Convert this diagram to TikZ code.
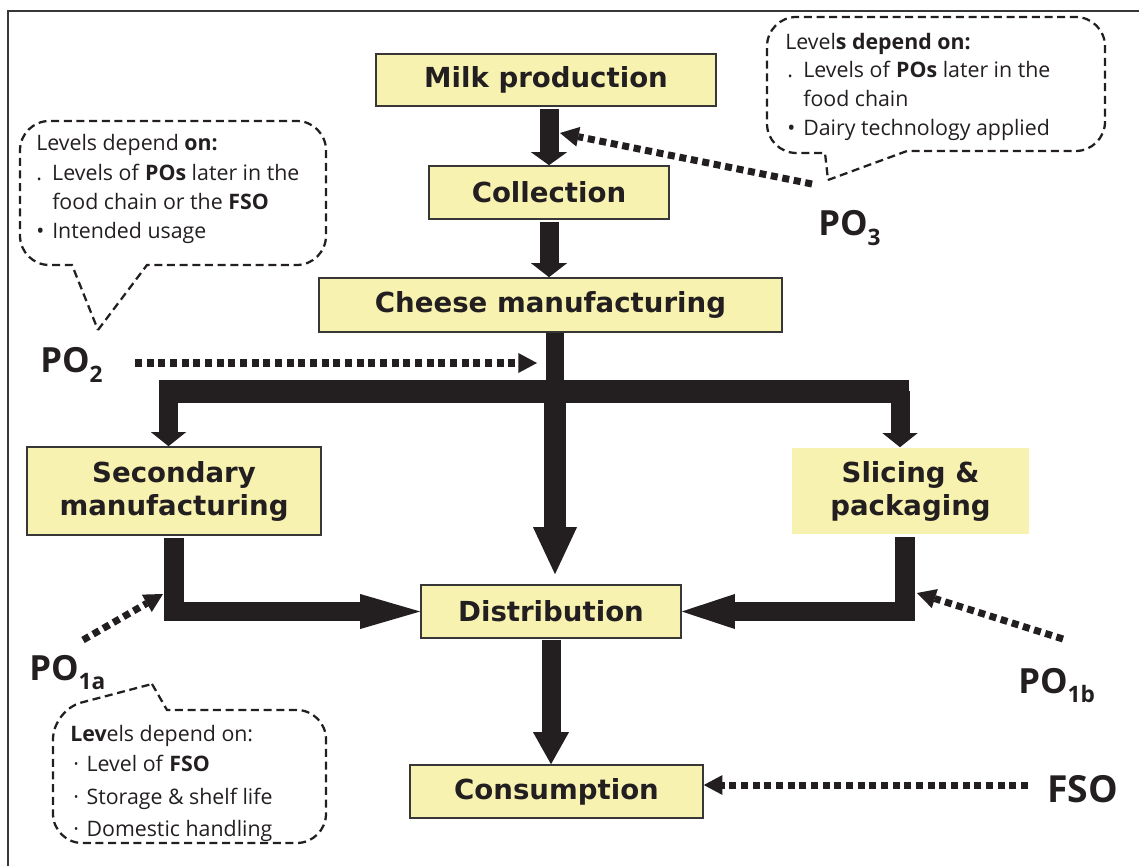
\documentclass[tikz,border=0pt]{standalone}
\usepackage{fontspec}
\setmainfont{Open Sans}
\newfontfamily\boxfont{DejaVu Sans}
\usetikzlibrary{arrows.meta}
\definecolor{boxfill}{RGB}{247,242,176}
\definecolor{ink}{RGB}{35,31,32}
\definecolor{edge}{RGB}{55,55,55}
\newcommand\posub[1]{\raisebox{-0.28em}{\fontsize{17}{17}\selectfont #1}}
\begin{document}
\begin{tikzpicture}[x=0.75pt,y=-0.75pt,
  stage/.style={draw=edge,line width=1.2pt,fill=boxfill,inner sep=0pt,align=center,
    text=ink,font=\boxfont\bfseries\fontsize{20.7}{24.75}\selectfont},
  flow/.style={draw=ink,line width=14.25pt,line join=miter},
  dotflow/.style={draw=ink,line width=5.25pt,dash pattern=on 5.25pt off 3.5pt,
    -{Triangle[width=15pt,length=14pt,line width=0pt]}},
  callout/.style={draw=ink,line width=1.7pt,dash pattern=on 6pt off 3.5pt},
  note/.style={anchor=base west,inner sep=0pt,text=ink,font=\fontsize{16}{22}\selectfont},
  polabel/.style={anchor=base west,inner sep=0pt,text=ink,font=\bfseries\fontsize{26}{30}\selectfont}]
\useasboundingbox (0,0) rectangle (1139,866);

% frame
\draw[edge,line width=1.1pt] (1139,11) -- (8,11) -- (8,866);

% process stages
\node[stage,minimum width=255pt,minimum height=39pt] (milk) at (546,80) {Milk production};
\node[stage,minimum width=180pt,minimum height=39.75pt] (coll) at (549,192.5) {Collection};
\node[stage,minimum width=347.25pt,minimum height=40.5pt] (cheese) at (550.5,305) {Cheese manufacturing};
\node[stage,minimum width=220.5pt,minimum height=66pt] (sec) at (174,491) {Secondary\\manufacturing};
\node[stage,draw=none,minimum width=177.75pt,minimum height=64.5pt] (slice) at (910.5,491) {Slicing \&\\packaging};
\node[stage,minimum width=195pt,minimum height=39.75pt] (dist) at (551,611.5) {Distribution};
\node[stage,minimum width=219.75pt,minimum height=39.75pt] (cons) at (556.5,791.5) {Consumption};

% main flow
\coordinate (hub) at (555,391);
\coordinate (barL) at (159,391);
\coordinate (barR) at (909,391);
\coordinate (dropL) at (168.5,391);
\coordinate (dropR) at (900,391);

\draw[flow,shorten <=2pt,-{Triangle[width=27pt,length=9.75pt,line width=0pt]}]
  (milk.south -| coll.north) -- (coll.north);
\draw[flow,shorten <=2pt,-{Triangle[width=27pt,length=10.5pt,line width=0pt]}]
  (coll.south) -- (coll.south |- cheese.north);
\draw[flow,line width=13.5pt] (cheese.south -| hub) -- (hub);
\draw[flow,line width=17.25pt] (barL) -- (barR);
\draw[flow,-{Triangle[width=26.25pt,length=10.5pt,line width=0pt]}] (dropL) -- (dropL |- sec.north);
\draw[flow,-{Triangle[width=26.25pt,length=10.5pt,line width=0pt]}] (dropR) -- (dropR |- slice.north);
\draw[flow,line width=16.5pt,shorten >=7.5pt,-{Triangle[width=33pt,length=35.25pt,line width=0pt]}]
  (hub) -- (hub |- dist.north);
\draw[flow,line width=14.5pt,shorten <=2pt,-{Triangle[width=26.25pt,length=45pt,line width=0pt]}]
  (sec.south) |- (dist.west);
\draw[flow,line width=14.5pt,shorten <=2pt,-{Triangle[width=26.25pt,length=39.75pt,line width=0pt]}]
  ([xshift=-4.1pt]slice.south) |- (dist.east);
\draw[flow,shorten <=1pt,-{Triangle[width=27pt,length=24pt,line width=0pt]}]
  (dist.south) -- (dist.south |- cons.north);

% performance objective labels
\node[polabel] (po2) at (40,373) {PO\posub{2}};
\node[polabel] (po3) at (818,236) {PO\posub{3}};
\node[polabel] (po1a) at (29,680) {PO\posub{1a}};
\node[polabel] (po1b) at (1018,693) {PO\posub{1b}};
\node[polabel,font=\bfseries\fontsize{28}{30}\selectfont] (fso) at (1047,802) {FSO};

% dotted influence arrows
\coordinate (p2s) at (135,363);
\coordinate (p2e) at (537,363);
\coordinate (p3s) at (812,184);
\coordinate (p3e) at (560,133);
\coordinate (p1as) at (83,640);
\coordinate (p1ae) at (163,594);
\coordinate (p1bs) at (1063,639);
\coordinate (p1be) at (917,593);
\coordinate (fsos) at (1028,785);
\draw[dotflow] (p2s) -- (p2e);
\draw[dotflow] (p3s) -- (p3e);
\draw[dotflow] (p1as) -- (p1ae);
\draw[dotflow] (p1bs) -- (p1be);
\draw[dotflow] (fsos) -- (fsos -| cons.east);

% speech bubbles
\draw[callout] (98,330) -- (147,265) [rounded corners=22pt] -- (326,265) -- (326,121)
  -- (20,121) -- (20,265) [sharp corners] -- (72,265) -- cycle;
\draw[callout] (828,180) -- (907,151) [rounded corners=22pt] -- (1105,151) -- (1105,17)
  -- (767,17) -- (767,153) [sharp corners] -- (825,153) -- cycle;
\draw[callout] (152,684) -- (167,710) [rounded corners=22pt] -- (326,710) -- (326,843)
  -- (53,843) -- (53,710) [sharp corners] -- cycle;

% bubble texts
\node[note] (tl1) at (36,151) {Levels depend \textbf{on:}};
\node[note] (tl2) at (36,181) {\makebox[12pt][l]{.}Levels of \textbf{POs} later in the};
\node[note] (tl3) at (52,210) {food chain or the \textbf{FSO}};
\node[note] (tl4) at (36,239) {\makebox[12pt][l]{\textbullet}Intended usage};

\node[note] (tr1) at (785,50) {Level\textbf{s depend on:}};
\node[note] (tr2) at (787,78) {\makebox[12pt][l]{.}Levels of \textbf{POs} later in the};
\node[note] (tr3) at (803,107) {food chain};
\node[note] (tr4) at (787,136) {\makebox[12pt][l]{\textbullet}Dairy technology applied};

\node[note] (bl1) at (70,741) {\textbf{Lev}els depend on:};
\node[note] (bl2) at (73,771) {\makebox[10pt][l]{·}Level of \textbf{FSO}};
\node[note] (bl3) at (73,804) {\makebox[10pt][l]{·}Storage \& shelf life};
\node[note] (bl4) at (73,836) {\makebox[10pt][l]{·}Domestic handling};
\end{tikzpicture}
\end{document}
